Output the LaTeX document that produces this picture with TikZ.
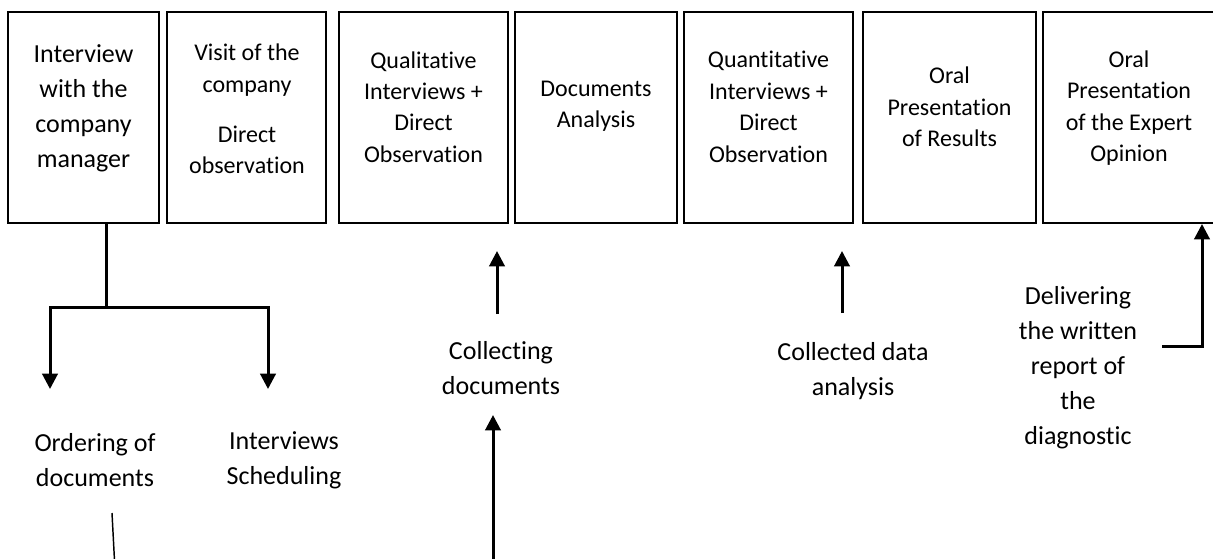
\documentclass[tikz,border=0pt]{standalone}
\usepackage{fontspec}
\setmainfont{Carlito}[Ligatures=NoCommon]
\usetikzlibrary{arrows.meta,calc}
\newcommand\boxfont{\fontsize{18}{23.6}\selectfont}
\newcommand\bigfont{\fontsize{19.5}{26.3}\selectfont}
\begin{document}
\begin{tikzpicture}[x=0.75pt,y=-0.75pt,
  boxst/.style={draw=black, line width=1.5pt, inner sep=0pt, minimum height={211*0.75pt}},
  bt/.style={align=center, font=\boxfont, inner sep=0pt},
  bt1/.style={align=center, font=\bigfont, inner sep=0pt},
  lab/.style={align=center, font=\bigfont, inner sep=0pt},
  ln/.style={line width=2.25pt},
  arr/.style={line width=2.25pt, -{Triangle[width=11.5pt,length=11.5pt]}},
  thin/.style={line width=1.1pt}]
\useasboundingbox (0,0) rectangle (1213,558);
\clip (0,0) rectangle (1213,558);
% boxes
\node[boxst, minimum width={151*0.75pt}] (b1) at (83.5,117.5) {};
\node[boxst, minimum width={159*0.75pt}] (b2) at (246.5,117.5) {};
\node[boxst, minimum width={169*0.75pt}] (b3) at (423.5,117.5) {};
\node[boxst, minimum width={162*0.75pt}] (b4) at (596,117.5) {};
\node[boxst, minimum width={169*0.75pt}] (b5) at (768.5,117.5) {};
\node[boxst, minimum width={173*0.75pt}] (b6) at (949.5,117.5) {};
\node[boxst, minimum width={172*0.75pt}] (b7) at (1129,117.5) {};
% box texts
\node[bt1] (b1t) at (83.5,108) {Interview\\with the\\company\\manager};
\node[bt] (b2t) at (247,109) {Visit of the\\company\\[14pt]Direct\\observation};
\node[bt] (b3t) at (423.5,107) {Qualitative\\Interviews +\\Direct\\Observation};
\node[bt] (b4t) at (596,106) {Documents\\Analysis};
\node[bt] (b5t) at (768.5,107) {Quantitative\\Interviews +\\Direct\\Observation};
\node[bt] (b6t) at (949.5,107) {Oral\\Presentation\\of Results};
\node[bt] (b7t) at (1129,108) {Oral\\Presentation\\of the Expert\\Opinion};
% bottom labels
\node[lab] (od) at (95,460) {Ordering of\\documents};
\node[lab] (is) at (284,460) {Interviews\\Scheduling};
\node[lab] (cd) at (501,368) {Collecting\\documents};
\node[lab] (ca) at (853,371) {Collected data\\analysis};
\node[lab] (dl) at (1078,368) {Delivering\\the written\\report of\\the\\diagnostic};
% coordinates
\coordinate (fork) at (106,307);
\coordinate (t1) at (50,389);
\coordinate (t2) at (268,389);
\coordinate (cdA) at (497,314);
\coordinate (cdT) at (497,251);
\coordinate (lowS) at (493,570);
\coordinate (lowT) at (493,415);
\coordinate (th1) at (112,513);
\coordinate (th2) at (115,570);
\coordinate (caA) at (842,313);
\coordinate (caT) at (842,251);
\coordinate (dlS) at (1162,346);
\coordinate (dlX) at (1202,346);
% connectors
\draw[ln] (b1.south -| fork) -- (fork);
\draw[arr] (fork) -| (t1);
\draw[arr] (fork) -| (t2);
\draw[arr] (cdA) -- (cdT);
\draw[arr] (lowS) -- (lowT);
\draw[thin] (th1) -- (th2);
\draw[arr] (caA) -- (caT);
\draw[arr] (dlS) -| (b7.south -| dlX);
\end{tikzpicture}
\end{document}
